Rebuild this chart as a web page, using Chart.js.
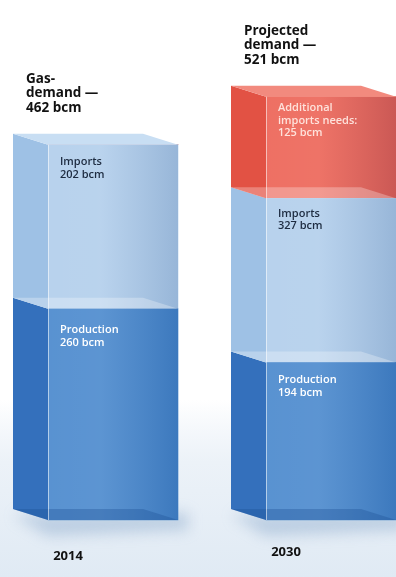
<!DOCTYPE html>
<html>
<head>
<meta charset="utf-8">
<script src="https://cdn.jsdelivr.net/npm/chart.js@4.4.1/dist/chart.umd.min.js"></script>
<style>
  html, body { margin: 0; padding: 0; background: #fff; overflow: hidden; }
  #wrap { width: 396px; height: 577px; }
</style>
</head>
<body>
<div id="wrap"><canvas id="gasChart" width="396" height="577"></canvas></div>
<script>
// data (bcm)
const years = ['2014', '2030'];
const production = [260, 194];
const imports = [202, 202];
const additional = [0, 125];
const headings = [['Gas-', 'demand —', '462 bcm'], ['Projected', 'demand —', '521 bcm']];
const productionText = [['Production', '260 bcm'], ['Production', '194 bcm']];
const importsText = [['Imports', '202 bcm'], ['Imports', '327 bcm']];
const additionalText = [null, ['Additional', 'imports needs:', '125 bcm']];

// depth of the fake 3d box
const DX = -35, DY = -11;
const FONT = '"Open Sans", "DejaVu Sans", sans-serif';

const sideColors = ['rgb(52,112,188)', 'rgb(158,193,229)', 'rgb(226,82,68)'];
const topColors = ['rgba(255,255,255,0.25)', 'rgb(200,222,243)', 'rgb(242,138,126)'];
const textColors = ['#ffffff', '#1d2b40', 'rgba(255,232,226,0.95)'];
const segTexts = [productionText, importsText, additionalText];
const segOffsets = [[16, 12], [12, 10], [0, 6]];

function poly(ctx, pts, color) {
  ctx.beginPath();
  ctx.moveTo(pts[0][0], pts[0][1]);
  for (let i = 1; i < pts.length; i++) ctx.lineTo(pts[i][0], pts[i][1]);
  ctx.closePath();
  ctx.fillStyle = color;
  ctx.fill();
}

function lines(ctx, arr, x, y, lh) {
  arr.forEach((t, i) => ctx.fillText(t, x, y + i * lh));
}

const boxes = {
  id: 'boxes',
  beforeDraw(chart) {
    const ctx = chart.ctx;
    ctx.save();
    ctx.fillStyle = '#fff';
    ctx.fillRect(0, 0, chart.width, chart.height);
    const g = ctx.createLinearGradient(0, 400, 0, chart.height);
    g.addColorStop(0, 'rgba(232,239,247,0)');
    g.addColorStop(0.35, 'rgb(236,242,248)');
    g.addColorStop(1, 'rgb(224,234,244)');
    ctx.fillStyle = g;
    ctx.fillRect(0, 400, chart.width, chart.height - 400);
    // soft shadows under the boxes
    chart.getDatasetMeta(0).data.forEach(el => {
      const p = el.getProps(['x', 'base', 'width'], true);
      ctx.save();
      ctx.filter = 'blur(7px)';
      ctx.fillStyle = 'rgba(110,145,190,0.35)';
      ctx.beginPath();
      ctx.moveTo(p.x - p.width / 2 + DX, p.base + DY + 6);
      ctx.lineTo(p.x + p.width / 2 + 10, p.base + DY + 4);
      ctx.lineTo(p.x + p.width / 2 + 10, p.base + 10);
      ctx.lineTo(p.x - p.width / 2, p.base + 16);
      ctx.closePath();
      ctx.fill();
      ctx.restore();
    });
    ctx.restore();
  },
  afterDatasetsDraw(chart) {
    const ctx = chart.ctx;
    ctx.save();
    const n = chart.data.labels.length;
    for (let i = 0; i < n; i++) {
      let top = null, topIdx = -1;
      // side faces and shading on front faces
      chart.data.datasets.forEach((ds, d) => {
        if (!ds.data[i]) return;
        const p = chart.getDatasetMeta(d).data[i].getProps(['x', 'y', 'base', 'width'], true);
        const l = p.x - p.width / 2, r = p.x + p.width / 2;
        poly(ctx, [[l, p.y], [l, p.base], [l + DX, p.base + DY], [l + DX, p.y + DY]], sideColors[d]);
        const fg = ctx.createLinearGradient(l, 0, r, 0);
        fg.addColorStop(0, 'rgba(255,255,255,0.10)');
        fg.addColorStop(0.4, 'rgba(255,255,255,0.12)');
        fg.addColorStop(1, 'rgba(0,40,100,0.14)');
        ctx.fillStyle = fg;
        ctx.fillRect(l, p.y, p.width, p.base - p.y);
        top = p; topIdx = d;
      });
      // bottom face
      const b = chart.getDatasetMeta(0).data[i].getProps(['x', 'base', 'width'], true);
      const bl = b.x - b.width / 2, br = b.x + b.width / 2;
      poly(ctx, [[bl, b.base], [br, b.base], [br + DX, b.base + DY], [bl + DX, b.base + DY]], 'rgba(30,80,150,0.35)');
      // inner top faces, then the lid
      chart.data.datasets.forEach((ds, d) => {
        if (!ds.data[i]) return;
        const p = chart.getDatasetMeta(d).data[i].getProps(['x', 'y', 'width'], true);
        const l = p.x - p.width / 2, r = p.x + p.width / 2;
        const c = d === topIdx ? topColors[d] : 'rgba(255,255,255,0.28)';
        poly(ctx, [[l, p.y], [r, p.y], [r + DX, p.y + DY], [l + DX, p.y + DY]], c);
      });
      // light front edge
      ctx.strokeStyle = 'rgba(255,255,255,0.55)';
      ctx.lineWidth = 1;
      ctx.beginPath();
      ctx.moveTo(top.x - top.width / 2 + 0.5, top.y);
      ctx.lineTo(top.x - top.width / 2 + 0.5, b.base);
      ctx.stroke();

      // segment labels
      ctx.textBaseline = 'top';
      chart.data.datasets.forEach((ds, d) => {
        const txt = segTexts[d][i];
        if (!txt || !ds.data[i]) return;
        const p = chart.getDatasetMeta(d).data[i].getProps(['x', 'y', 'width'], true);
        ctx.fillStyle = textColors[d];
        ctx.font = '600 11px ' + FONT;
        lines(ctx, txt, p.x - p.width / 2 + 12, p.y + segOffsets[d][i], 12.5);
      });

      // heading above the box
      ctx.fillStyle = '#111';
      ctx.font = 'bold 13.5px ' + FONT;
      ctx.textBaseline = 'alphabetic';
      const h = headings[i];
      const hx = top.x - top.width / 2 - 22;
      const hy = top.y + DY - 22 - (h.length - 1) * 14.5;
      lines(ctx, h, hx, hy, 14.5);

      // year
      ctx.font = 'bold 13px ' + FONT;
      ctx.textAlign = 'center';
      ctx.fillText(chart.data.labels[i], b.x - 45, b.base + 40 - i * 4);
      ctx.textAlign = 'left';
    }
    ctx.restore();
  }
};

new Chart(document.getElementById('gasChart'), {
  type: 'bar',
  data: {
    labels: years,
    datasets: [
      { label: 'Production', data: production, backgroundColor: 'rgb(70,134,204)' },
      { label: 'Imports', data: imports, backgroundColor: 'rgb(176,205,235)' },
      { label: 'Additional imports needs', data: additional, backgroundColor: 'rgb(236,96,82)' }
    ].map(ds => Object.assign(ds, { barThickness: 130, borderWidth: 0, clip: false }))
  },
  options: {
    responsive: false,
    animation: false,
    layout: { padding: { left: 113, right: 65, top: 0, bottom: 57 } },
    plugins: { legend: { display: false }, tooltip: { enabled: false } },
    scales: {
      x: { stacked: true, offset: false, display: false },
      y: { stacked: true, min: 0, max: 640, display: false }
    }
  },
  plugins: [boxes]
});
</script>
</body>
</html>
